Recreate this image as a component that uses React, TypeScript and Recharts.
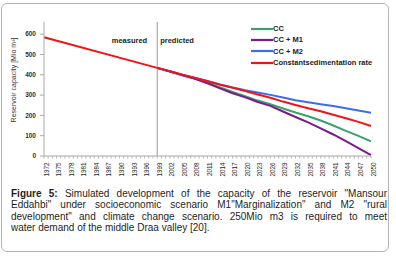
import React from "react";
import { LineChart, Line, XAxis, YAxis, ReferenceLine, Legend } from "recharts";

// years with values (measured 1972-1999, predicted after)
const YEARS = [1972, 1999, 2002, 2005, 2008, 2011, 2014, 2017, 2020, 2023, 2026, 2029, 2032, 2035, 2038, 2041, 2044, 2047, 2050];
const CONSTANT_RATE = [585, 434, 417, 400, 384, 368, 351, 336, 320, 303, 287, 268, 251, 235, 220, 203, 186, 168, 148];
const CC = [null, 434, 417, 399, 381, 361, 338, 315, 294, 273, 255, 234, 214, 196, 175, 150, 124, 99, 72];
const CC_M1 = [null, 434, 416, 397, 380, 358, 333, 309, 289, 266, 247, 219, 192, 166, 136, 106, 73, 39, 4];
const CC_M2 = [null, 434, 417, 400, 385, 369, 352, 337, 324, 313, 301, 288, 275, 265, 255, 246, 235, 224, 213];

const FIRST_YEAR = 1972;
const LAST_YEAR = 2050;
const SPLIT_YEAR = 1999;
const X_TICKS = Array.from({ length: LAST_YEAR - FIRST_YEAR + 1 }, (_, i) => FIRST_YEAR + i);
const Y_TICKS = [0, 100, 200, 300, 400, 500, 600];

const SERIES = [
  { key: "cc", name: "CC", color: "#3d9f6c" },
  { key: "ccM1", name: "CC + M1", color: "#7a1c88" },
  { key: "ccM2", name: "CC + M2", color: "#3b6cf6" },
  { key: "constant", name: "Constantsedimentation rate", color: "#f21414" },
];

const chartData = YEARS.map((year, i) => ({
  year,
  constant: CONSTANT_RATE[i],
  cc: CC[i],
  ccM1: CC_M1[i],
  ccM2: CC_M2[i],
}));

const FONT = "'Liberation Sans', Arial, sans-serif";
const AXIS_GREY = "#a8a8a8";

const YearTick = ({ x, y, payload }: any) => {
  const yr = payload.value as number;
  const labelled = (yr - FIRST_YEAR) % 3 === 0;
  const tx = x + 4.5;
  const ty = y + 6.5;
  return (
    <g>
      <line x1={x} x2={x} y1={y} y2={y + 2.5} stroke={AXIS_GREY} strokeWidth={0.8} />
      {labelled && (
        <text
          x={tx}
          y={ty}
          transform={`rotate(-90 ${tx} ${ty})`}
          textAnchor="end"
          fontSize={6.3}
          fontFamily={FONT}
          fill="#1e1e1e"
        >
          {yr}
        </text>
      )}
    </g>
  );
};

const renderYTitle = (props: any) => {
  const vb = props.viewBox || { x: 0, y: 22, height: 134 };
  const cx = vb.x + 16;
  const cy = vb.y + vb.height / 2 - 9;
  return (
    <text
      x={cx}
      y={cy}
      transform={`rotate(-90 ${cx} ${cy})`}
      textAnchor="middle"
      fontSize={7}
      fontFamily={FONT}
      fill="#333"
    >
      Reservoir capacity [Mio m³]
    </text>
  );
};

const renderPhaseLabels = (props: any) => {
  const vb = props.viewBox || { x: 157, y: 22 };
  const ty = vb.y + 21;
  return (
    <g fontSize={7.5} fontWeight="bold" fontFamily={FONT} fill="#222">
      <text x={vb.x - 10} y={ty} textAnchor="end">measured</text>
      <text x={vb.x + 3} y={ty} textAnchor="start">predicted</text>
    </g>
  );
};

const renderLegend = () => (
  <div style={{ fontFamily: FONT, fontSize: 7.5, fontWeight: "bold", color: "#222" }}>
    {SERIES.map((s) => (
      <div key={s.key} style={{ display: "flex", alignItems: "center", height: 11.3 }}>
        <svg width={22} height={4} style={{ display: "block" }}>
          <line x1={0} x2={22} y1={2} y2={2} stroke={s.color} strokeWidth={2.2} />
        </svg>
        <span style={{ whiteSpace: "nowrap" }}>{s.name}</span>
      </div>
    ))}
  </div>
);

const CAPTION_LINES = [
  [<b key="b">Figure 5:</b>, ' Simulated development of the capacity of the reservoir "Mansour'],
  ['Eddahbi" under socioeconomic scenario M1"Marginalization" and M2 "rural'],
  ['development" and climate change scenario. 250Mio m3 is required to meet'],
  ["water demand of the middle Draa valley [20]."],
];

export default function App() {
  return (
    <div style={{ position: "absolute", left: 0, top: 0, width: 396, height: 257, background: "#fff" }}>
      <div
        style={{
          position: "absolute",
          left: 1,
          top: 3,
          width: 388,
          height: 249,
          boxSizing: "border-box",
          border: "1px solid #b4b4b4",
          borderRadius: 6,
        }}
      />
      <div style={{ position: "absolute", left: 0, top: 0 }}>
        <LineChart width={396} height={185} data={chartData} margin={{ top: 22, right: 25, left: 0, bottom: 0 }}>
          <XAxis
            dataKey="year"
            type="number"
            domain={[FIRST_YEAR, LAST_YEAR]}
            ticks={X_TICKS}
            interval={0}
            height={29}
            tick={<YearTick />}
            tickLine={false}
            tickSize={0}
            tickMargin={0}
            axisLine={{ stroke: AXIS_GREY }}
          />
          <YAxis
            type="number"
            domain={[0, 660]}
            ticks={Y_TICKS}
            interval={0}
            width={44}
            tickSize={4}
            tickMargin={4}
            tick={{ fontSize: 6.5, fontWeight: "bold", fontFamily: FONT, fill: "#333" }}
            tickLine={{ stroke: AXIS_GREY }}
            axisLine={{ stroke: AXIS_GREY }}
            label={renderYTitle}
          />
          <ReferenceLine x={SPLIT_YEAR} stroke="#9a9a9a" strokeWidth={1} label={renderPhaseLabels} />
          <Legend
            layout="vertical"
            align="center"
            verticalAlign="middle"
            content={renderLegend}
            wrapperStyle={{ left: 251, top: 23, width: 140 }}
          />
          {SERIES.map((s) => (
            <Line
              key={s.key}
              dataKey={s.key}
              name={s.name}
              type="linear"
              stroke={s.color}
              strokeWidth={2}
              dot={false}
              activeDot={false}
              isAnimationActive={false}
            />
          ))}
        </LineChart>
      </div>
      <div
        style={{
          position: "absolute",
          left: 11,
          top: 188,
          width: 376,
          fontFamily: FONT,
          fontSize: 10,
          lineHeight: "11.35px",
          color: "#1e1e1e",
        }}
      >
        {CAPTION_LINES.map((parts, i) => (
          <div
            key={i}
            style={{
              textAlign: "justify",
              textAlignLast: i < CAPTION_LINES.length - 1 ? "justify" : "left",
              whiteSpace: "nowrap",
            }}
          >
            {parts}
          </div>
        ))}
      </div>
    </div>
  );
}
